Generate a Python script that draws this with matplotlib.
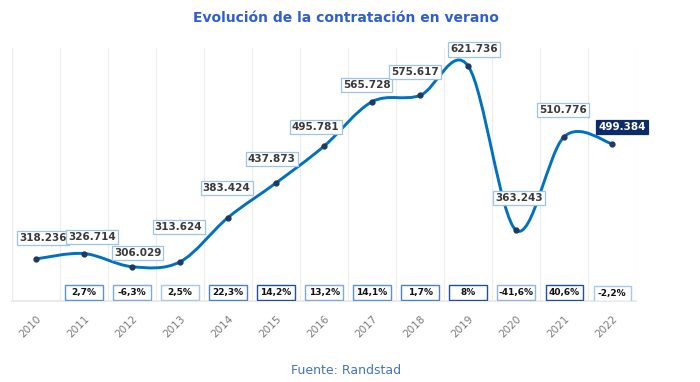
import numpy as np
import matplotlib.pyplot as plt
from matplotlib.path import Path
from matplotlib.patches import PathPatch, Rectangle
import matplotlib.transforms as mtransforms

# Datos
anios = ['2010', '2011', '2012', '2013', '2014', '2015', '2016',
         '2017', '2018', '2019', '2020', '2021', '2022']
contratos = [318236, 326714, 306029, 313624, 383424, 437873, 495781,
             565728, 575617, 621736, 363243, 510776, 499384]
etiquetas = ['318.236', '326.714', '306.029', '313.624', '383.424', '437.873',
             '495.781', '565.728', '575.617', '621.736', '363.243', '510.776',
             '499.384']
variacion = ['2,7%', '-6,3%', '2,5%', '22,3%', '14,2%', '13,2%', '14,1%',
             '1,7%', '8%', '-41,6%', '40,6%', '-2,2%']

# Estilo
azul_linea = '#0070c0'
azul_marcador = '#1f3864'
borde_etiqueta = '#9dc3e6'
bordes_var = ['#5b8fd6', '#7fa7e0', '#a9c6ec', '#4a7fd0', '#1f4ea8', '#7fa7e0',
              '#5b8fd6', '#4a7fd0', '#1f4ea8', '#8fb4e3', '#1f4ea8', '#a9c6ec']
# desplazamiento (pt) de cada etiqueta de valor
dy = [15, 12, 10, 25, 21, 17, 14, 12, 17, 12, 23, 19, 12]
dx = [5, 6, 4, -1, -1, -3, -6, -4, -4, 4, 2, -1, 7]

fig = plt.figure(figsize=(7, 3.82), dpi=100)
ax = fig.add_axes([0.017, 0.212, 0.892, 0.662])

x = np.arange(len(anios))
y = np.array(contratos, dtype=float)

# Linea suavizada (Bezier tipo Excel)
verts = [(x[0], y[0])]
codes = [Path.MOVETO]
for i in range(len(x) - 1):
    p0 = np.array([x[max(i - 1, 0)], y[max(i - 1, 0)]])
    p1 = np.array([x[i], y[i]])
    p2 = np.array([x[i + 1], y[i + 1]])
    p3 = np.array([x[min(i + 2, len(x) - 1)], y[min(i + 2, len(x) - 1)]])
    c1 = p1 + (p2 - p0) / 6
    c2 = p2 - (p3 - p1) / 6
    verts += [tuple(c1), tuple(c2), tuple(p2)]
    codes += [Path.CURVE4] * 3
ax.add_patch(PathPatch(Path(verts, codes), fill=False, edgecolor=azul_linea,
                       lw=2.1, capstyle='round', zorder=3))
ax.plot(x, y, 'o', ms=3.5, color=azul_marcador, mec='#1f3864', zorder=4)

# Etiquetas de valor
for i, (xi, yi) in enumerate(zip(x, y)):
    ultimo = i == len(x) - 1
    ax.annotate(etiquetas[i], (xi, yi), xytext=(dx[i], dy[i]),
                textcoords='offset points', ha='center', va='center',
                fontsize=7.5, fontweight='bold',
                color='white' if ultimo else '#3a3a3a',
                bbox=dict(boxstyle='square,pad=0.2',
                          fc='#0d2a6b' if ultimo else 'white',
                          ec='#0d2a6b' if ultimo else borde_etiqueta, lw=0.9),
                zorder=5)

# Cajas de variacion
trans = mtransforms.blended_transform_factory(ax.transData, ax.transAxes)
for i, txt in enumerate(variacion):
    xi = x[i + 1]
    y0 = 0.0 if i == len(variacion) - 1 else 0.004
    ax.add_patch(Rectangle((xi - 0.39, y0), 0.78, 0.058, transform=trans,
                           fc='white', ec=bordes_var[i], lw=1.0, zorder=5))
    ax.text(xi, y0 + 0.029, txt, transform=trans, ha='center', va='center',
            fontsize=6.5, fontweight='bold', color='#111111', zorder=6)

ax.set_xlim(-0.5, len(anios) - 0.5)
ax.set_ylim(252000, 650000)
ax.set_xticks(x)
ax.set_xticklabels(anios, rotation=45, ha='right', rotation_mode='anchor',
                   fontsize=7.5, color='#7a7a7a')
ax.tick_params(axis='x', length=0, pad=9)
ax.set_yticks([])
ax.set_xticks(np.arange(len(anios) + 1) - 0.5, minor=True)
ax.grid(True, which='minor', axis='x', color='#ececec', lw=0.8)
ax.tick_params(axis='x', which='minor', length=0)
for s in ['top', 'left', 'right']:
    ax.spines[s].set_visible(False)
ax.spines['bottom'].set_color('#e6e6e6')
ax.spines['bottom'].set_linewidth(1.2)

fig.text(0.494, 0.952, 'Evolución de la contratación en verano', ha='center',
         va='center', fontsize=10, fontweight='bold', color='#2f5fcf')
fig.text(0.494, 0.031, 'Fuente: Randstad', ha='center', va='center',
         fontsize=9, color='#4472c4')

fig.savefig('out.png', dpi=100)
